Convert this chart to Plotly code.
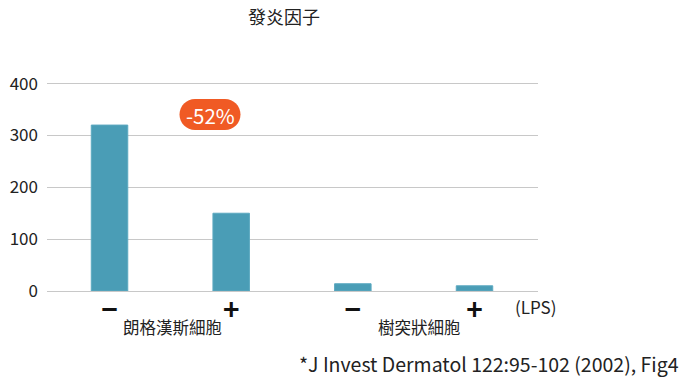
import plotly.graph_objects as go

# ---- data ----
cell_types = ["朗格漢斯細胞", "樹突狀細胞"]
lps_labels = ["−", "+", "−", "+"]
values = [320, 150, 14, 10]
y_ticks = [0, 100, 200, 300, 400]
title_text = "發炎因子"
badge_text = "-52%"
lps_text = "(LPS)"
footnote = "*J Invest Dermatol 122:95-102 (2002), Fig4"

FONT = "Noto Sans CJK TC"
BAR = "#4A9DB6"
ORANGE = "#F05A24"
TXT = "#222222"

L, R, T, B = 47, 149, 81, 90
PW, PH = 687 - L - R, 381 - T - B
Y0 = 381 - B  # pixel row of the baseline


def px(xp):
    return (xp - L) / PW


def py(yp):
    return (Y0 - yp) / PH


xpos = list(range(len(values)))

fig = go.Figure()
fig.add_trace(go.Bar(
    x=xpos, y=values, width=0.3,
    marker=dict(color=BAR, line=dict(color="#5CA9C0", width=1)),
    hoverinfo="skip",
))

fig.update_layout(
    width=687, height=381,
    margin=dict(l=L, r=R, t=T, b=B, autoexpand=False),
    paper_bgcolor="white", plot_bgcolor="white",
    showlegend=False,
    font=dict(family=FONT, color=TXT),
    xaxis=dict(
        range=[-0.514, 3.522], tickvals=xpos,
        ticktext=[f"<b>{t}</b>" for t in lps_labels],
        tickfont=dict(size=28, color="#111111", family=FONT),
        showgrid=False, zeroline=False, showline=False, ticks="",
        automargin=False, fixedrange=True,
    ),
    yaxis=dict(
        range=[0, 405], tickvals=y_ticks,
        tickfont=dict(size=17, color=TXT, family=FONT),
        showgrid=True, gridcolor="#C8C8C8", gridwidth=1,
        zeroline=True, zerolinecolor="#C8C8C8", zerolinewidth=1,
        showline=False, ticks="", ticklabelstandoff=8,
        automargin=False, fixedrange=True,
    ),
)

# title
fig.add_annotation(text=title_text, xref="paper", yref="paper",
                   x=px(284), y=py(16),
                   showarrow=False, font=dict(size=18, color=TXT, family=FONT),
                   xanchor="center", yanchor="middle")

# group labels
fig.add_annotation(text=cell_types[0], xref="x", yref="paper",
                   x=0.5, y=py(327), showarrow=False,
                   font=dict(size=16.5, color=TXT, family=FONT),
                   xanchor="center", yanchor="middle", xshift=2)
fig.add_annotation(text=cell_types[1], xref="x", yref="paper",
                   x=2.5, y=py(327), showarrow=False,
                   font=dict(size=16.5, color=TXT, family=FONT),
                   xanchor="center", yanchor="middle", xshift=6)

# LPS label
fig.add_annotation(text=lps_text, xref="paper", yref="paper",
                   x=px(513), y=py(306), showarrow=False,
                   font=dict(size=17, color=TXT, family=FONT),
                   xanchor="left", yanchor="middle")

# footnote
fig.add_annotation(text=footnote, xref="paper", yref="paper",
                   x=px(681), y=py(363), showarrow=False,
                   font=dict(size=19.5, color=TXT, family=FONT),
                   xanchor="right", yanchor="middle")

# badge (rounded pill)
bx, by = px(210), py(114.5)
r, w = 15.5, 15.0
k = 0.5523 * r
path = (f"M {-w},{-r} L {w},{-r} "
        f"C {w+k},{-r} {w+r},{-k} {w+r},0 "
        f"C {w+r},{k} {w+k},{r} {w},{r} "
        f"L {-w},{r} "
        f"C {-w-k},{r} {-w-r},{k} {-w-r},0 "
        f"C {-w-r},{-k} {-w-k},{-r} {-w},{-r} Z")
fig.add_shape(type="path", path=path, xref="paper", yref="paper",
              xsizemode="pixel", ysizemode="pixel", xanchor=bx, yanchor=by,
              fillcolor=ORANGE, line=dict(width=0), layer="above")
fig.add_annotation(text=badge_text, xref="paper", yref="paper", x=bx, y=by,
                   showarrow=False, font=dict(size=20.5, color="white", family=FONT),
                   xanchor="center", yanchor="middle")

fig.write_html("out.html",
               config={"displayModeBar": False, "staticPlot": True},
               post_script="document.body.style.margin='0';"
                           "document.body.style.overflow='hidden';")
